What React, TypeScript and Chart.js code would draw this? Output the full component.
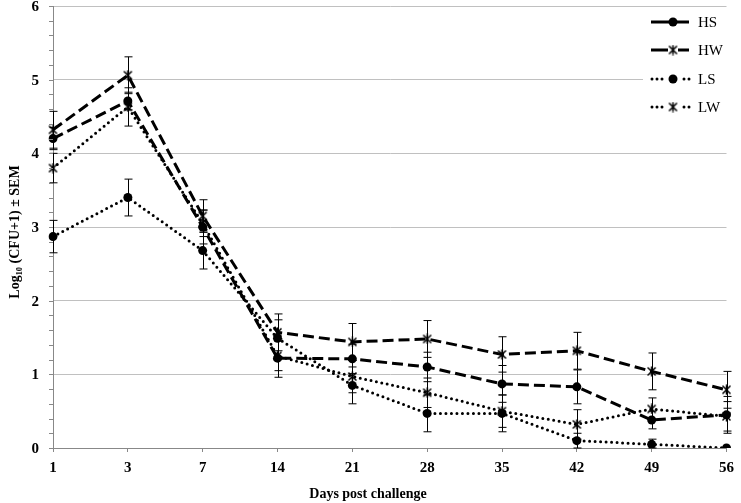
import React, { useEffect, useRef } from "react";
import { Chart, registerables } from "chart.js";
Chart.register(...registerables);

const days = ["1", "3", "7", "14", "21", "28", "35", "42", "49", "56"];
const seriesNames = ["HS", "HW", "LS", "LW"];
const hs = [4.2, 4.71, 3.0, 1.22, 1.21, 1.1, 0.87, 0.83, 0.38, 0.45];
const hw = [4.32, 5.06, 3.15, 1.57, 1.44, 1.48, 1.27, 1.32, 1.04, 0.79];
const ls = [2.87, 3.4, 2.68, 1.49, 0.85, 0.47, 0.47, 0.1, 0.05, 0.0];
const lw = [3.8, 4.63, 3.05, 1.25, 0.97, 0.75, 0.5, 0.32, 0.53, 0.43];
const hsErr = [0.15, 0.12, 0.23, 0.26, 0.2, 0.2, 0.25, 0.23, 0.12, 0.25];
const hwErr = [0.25, 0.25, 0.22, 0.25, 0.25, 0.25, 0.24, 0.25, 0.25, 0.25];
const lsErr = [0.22, 0.25, 0.25, 0.25, 0.25, 0.25, 0.25, 0.1, 0.07, 0.0];
const lwErr = [0.2, 0.26, 0.18, 0.2, 0.22, 0.2, 0.22, 0.2, 0.15, 0.2];
const yTicks = [0, 1, 2, 3, 4, 5, 6];

const SERIF = "'Liberation Serif', 'Times New Roman', serif";

function makeStar(): HTMLCanvasElement {
  const c = document.createElement("canvas");
  c.width = 11;
  c.height = 11;
  const g = c.getContext("2d")!;
  g.strokeStyle = "#000";
  g.lineWidth = 1.5;
  g.beginPath();
  g.moveTo(1.5, 1.5); g.lineTo(9.5, 9.5);
  g.moveTo(9.5, 1.5); g.lineTo(1.5, 9.5);
  g.moveTo(5.5, 0.5); g.lineTo(5.5, 10.5);
  g.stroke();
  return c;
}

export default function App() {
  const ref = useRef<HTMLCanvasElement>(null);
  useEffect(() => {
    document.body.style.margin = "0";
    const star = makeStar();
    const errs = [hsErr, hwErr, lsErr, lwErr];
    const dashed = [11, 5];
    const dotted = [0, 5.5];

    const errorBars = {
      id: "errorBars",
      afterDatasetsDraw(chart: any) {
        const ctx = chart.ctx;
        const y = chart.scales.y;
        ctx.save();
        ctx.strokeStyle = "#000";
        ctx.lineWidth = 1;
        chart.data.datasets.forEach((ds: any, i: number) => {
          const meta = chart.getDatasetMeta(i);
          meta.data.forEach((pt: any, j: number) => {
            const e = errs[i][j];
            if (!e) return;
            const v = ds.data[j];
            const top = y.getPixelForValue(v + e);
            const bot = y.getPixelForValue(Math.max(0, v - e));
            const x = Math.round(pt.x) + 0.5;
            ctx.beginPath();
            ctx.moveTo(x, top); ctx.lineTo(x, bot);
            ctx.moveTo(x - 4, top); ctx.lineTo(x + 4, top);
            ctx.moveTo(x - 4, bot); ctx.lineTo(x + 4, bot);
            ctx.stroke();
          });
        });
        ctx.restore();
      },
    };

    const yAxisDecor = {
      id: "yAxisDecor",
      afterDraw(chart: any) {
        const ctx = chart.ctx;
        const y = chart.scales.y;
        const x0 = chart.chartArea.left;
        ctx.save();
        ctx.strokeStyle = "#888";
        ctx.lineWidth = 1;
        ctx.beginPath();
        for (let k = 0; k <= 30; k++) {
          const v = k / 5;
          const py = Math.round(y.getPixelForValue(v)) + 0.5;
          ctx.moveTo(x0 - 4, py);
          ctx.lineTo(x0, py);
        }
        ctx.stroke();
        ctx.fillStyle = "#000";
        ctx.font = `bold 15px ${SERIF}`;
        ctx.textAlign = "right";
        ctx.textBaseline = "middle";
        yTicks.forEach((v) => {
          ctx.fillText(String(v), 39, y.getPixelForValue(v) + 1);
        });
        ctx.restore();
      },
    };

    const customLegend = {
      id: "customLegend",
      afterDraw(chart: any) {
        const ctx = chart.ctx;
        ctx.save();
        ctx.fillStyle = "#fff";
        ctx.fillRect(643, 12, 89, 110);
        const rows = [22, 50, 79, 107];
        seriesNames.forEach((name, i) => {
          const yy = rows[i];
          const isDashed = i < 2;
          ctx.strokeStyle = "#000";
          ctx.lineWidth = 3;
          if (isDashed) {
            ctx.lineCap = "butt";
            ctx.setLineDash([]);
            ctx.beginPath();
            ctx.moveTo(651, yy); ctx.lineTo(689, yy);
            ctx.stroke();
          } else {
            ctx.fillStyle = "#000";
            [652, 657, 662, 684, 689].forEach((dx) => {
              ctx.beginPath();
              ctx.arc(dx, yy, 1.5, 0, Math.PI * 2);
              ctx.fill();
            });
          }
          if (i % 2 === 0) {
            ctx.fillStyle = "#000";
            ctx.beginPath();
            ctx.arc(673, yy, 4.5, 0, Math.PI * 2);
            ctx.fill();
          } else {
            if (isDashed) {
              ctx.fillStyle = "#fff";
              ctx.fillRect(668, yy - 5, 10, 10);
            }
            ctx.drawImage(star, 673 - 5.5, yy - 5.5);
          }
          ctx.fillStyle = "#000";
          ctx.font = `15px ${SERIF}`;
          ctx.textBaseline = "middle";
          ctx.textAlign = "left";
          ctx.fillText(name, 698, yy + 1);
        });
        ctx.restore();
      },
    };

    const axisTitles = {
      id: "axisTitles",
      afterDraw(chart: any) {
        const ctx = chart.ctx;
        ctx.save();
        ctx.fillStyle = "#000";
        ctx.font = `bold 14px ${SERIF}`;
        ctx.textAlign = "center";
        ctx.textBaseline = "middle";
        ctx.fillText("Days post challenge", 368, 494);
        ctx.translate(15, 232);
        ctx.rotate(-Math.PI / 2);
        ctx.fillText("Log\u2081\u2080 (CFU+1) \u00b1 SEM", 0, 0);
        ctx.restore();
      },
    };

    const mk = (label: string, data: number[], i: number) => ({
      label,
      data,
      borderColor: "#000",
      backgroundColor: "#000",
      borderWidth: 3,
      borderDash: i < 2 ? dashed : dotted,
      borderCapStyle: i < 2 ? "butt" : "round",
      pointStyle: i % 2 === 0 ? "circle" : star,
      pointRadius: i % 2 === 0 ? 4.5 : 5,
      pointBorderWidth: 0,
      pointBackgroundColor: "#000",
      tension: 0,
      fill: false,
    });

    const chart = new Chart(ref.current!, {
      type: "line",
      data: {
        labels: days,
        datasets: [mk("HS", hs, 0), mk("HW", hw, 1), mk("LS", ls, 2), mk("LW", lw, 3)],
      },
      options: {
        animation: false,
        responsive: false,
        layout: { padding: { top: 6, right: 9, left: 0, bottom: 0 } },
        plugins: { legend: { display: false }, tooltip: { enabled: false } },
        scales: {
          x: {
            offset: false,
            afterFit: (s: any) => { s.height = 55; },
            grid: {
              color: "rgba(0,0,0,0)",
              drawTicks: true,
              tickLength: 4,
              tickColor: "#888",
            },
            border: { display: true, color: "#888", width: 1 },
            ticks: {
              color: "#000",
              font: { family: SERIF, size: 15, weight: "bold" },
              padding: 7,
              maxRotation: 0,
              autoSkip: false,
            },
          },
          y: {
            min: 0,
            max: 6,
            afterFit: (s: any) => { s.width = 53; },
            grid: {
              color: (c: any) => (c.tick && c.tick.value !== 0 ? "#c0c0c0" : "rgba(0,0,0,0)"),
              lineWidth: 1,
              drawTicks: false,
            },
            border: { display: true, color: "#888", width: 1 },
            ticks: { display: false, stepSize: 1 },
          },
        },
      },
      plugins: [errorBars, yAxisDecor, customLegend, axisTitles],
    } as any);
    return () => chart.destroy();
  }, []);
  return (
    <div style={{ position: "absolute", left: 0, top: 0, width: 741, height: 503, background: "#fff" }}>
      <canvas ref={ref} width={741} height={503} style={{ width: 741, height: 503 }} />
    </div>
  );
}
